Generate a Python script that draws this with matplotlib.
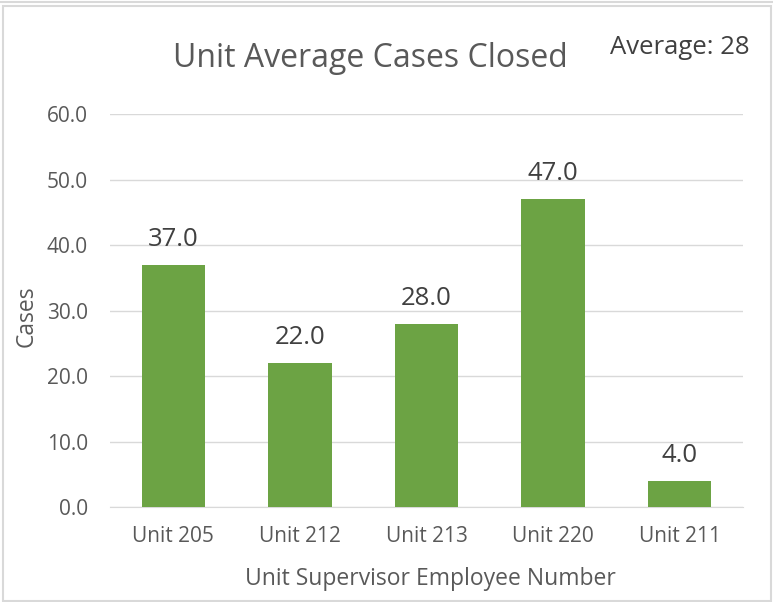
import matplotlib as mpl
import matplotlib.pyplot as plt
from matplotlib.patches import Rectangle
from matplotlib.lines import Line2D

units = ['Unit 205', 'Unit 212', 'Unit 213', 'Unit 220', 'Unit 211']
cases = [37.0, 22.0, 28.0, 47.0, 4.0]
average = 28

BAR_GREEN = '#6CA344'
TEXT_GRAY = '#595959'
LABEL_GRAY = '#404040'
GRID_GRAY = '#D9D9D9'


def main():
    mpl.rcParams['font.family'] = ['Open Sans', 'DejaVu Sans']

    fig = plt.figure(figsize=(7.73, 6.02), dpi=100)
    ax = fig.add_axes([0.1423, 0.1578, 0.8189, 0.6528])

    # Bars and the value labels above them
    xpos = range(len(units))
    ax.bar(xpos, cases, width=0.5, color=BAR_GREEN, zorder=3)
    for x, v in zip(xpos, cases):
        ax.text(x, v + 2.9, f'{v:.1f}', ha='center', va='baseline',
                fontsize=18.5, color=LABEL_GRAY)

    ax.set_xlim(-0.5, len(units) - 0.5)
    ax.set_ylim(0, 60)
    ax.set_yticks(range(0, 61, 10))
    ax.set_yticklabels([f'{t:.1f}' for t in range(0, 61, 10)])
    ax.set_xticks(list(xpos))
    ax.set_xticklabels(units)
    ax.tick_params(axis='both', length=0, labelsize=15, colors=TEXT_GRAY)
    ax.tick_params(axis='x', pad=14)
    ax.tick_params(axis='y', pad=16)

    ax.grid(axis='y', color=GRID_GRAY, linewidth=1, zorder=0)
    for side in ['top', 'right', 'left']:
        ax.spines[side].set_visible(False)
    ax.spines['bottom'].set_color(GRID_GRAY)

    # Titles and axis labels placed on the figure
    fig.text(0.4787, 0.889, 'Unit Average Cases Closed', ha='center',
             va='baseline', fontsize=23, color=TEXT_GRAY)
    fig.text(0.8797, 0.9098, f'Average: {average}', ha='center',
             va='baseline', fontsize=18.5, color=LABEL_GRAY)
    fig.text(0.5566, 0.0282, 'Unit Supervisor Employee Number',
             ha='center', va='baseline', fontsize=16.5, color=TEXT_GRAY)
    fig.text(0.034, 0.475, 'Cases', rotation=90, ha='center', va='center',
             fontsize=16.5, color=TEXT_GRAY)

    # Chart border
    fig.patches.append(Rectangle((3 / 773, 1 / 602), 768 / 773, 595 / 602,
                                 transform=fig.transFigure, fill=False,
                                 edgecolor=GRID_GRAY, linewidth=1.5))
    fig.lines.append(Line2D([0, 1], [1 - 1.5 / 602, 1 - 1.5 / 602],
                            transform=fig.transFigure, color=GRID_GRAY,
                            linewidth=1.5))

    fig.savefig('out.png', dpi=100)


main()
